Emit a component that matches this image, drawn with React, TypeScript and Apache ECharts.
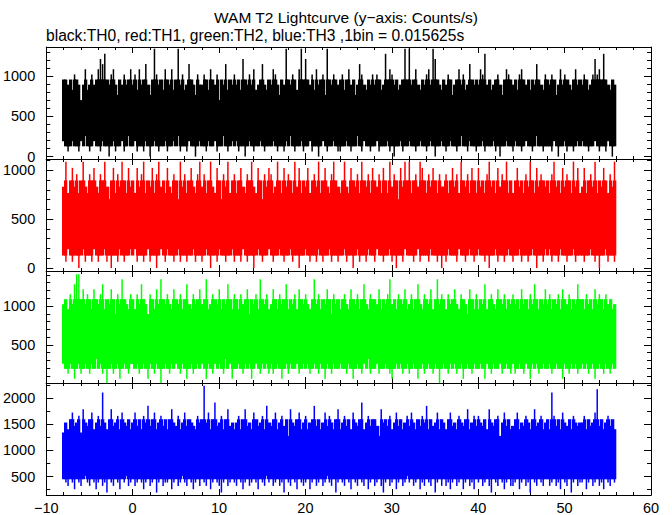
import React, { useEffect, useRef } from 'react';
import * as echarts from 'echarts';

// one bin of the original data = 0.015625 s; values below are counts per bin (max / min per 0.25 s block)
const BIN_SEC = 0.015625;
const T_START = -8.1;
const T_STEP = 0.25;

// TH0 (black)
const th0Hi = [
  15,15,14,15,13,16,15,14,11,14,17,13,14,16,14,15,
  17,19,18,20,15,14,16,17,14,12,15,14,16,14,15,17,
  14,16,13,17,14,15,18,14,12,15,21,16,14,15,13,17,
  15,14,17,13,15,21,14,16,13,14,18,15,14,12,16,14,
  14,16,15,13,17,15,14,16,11,15,14,18,13,15,14,16,
  14,15,13,19,15,14,16,14,17,13,14,15,18,14,13,15,
  14,17,16,14,12,15,14,21,15,14,16,15,13,17,21,15,
  19,15,14,16,13,17,14,15,16,12,21,15,14,16,15,14,
  15,16,13,15,17,14,15,12,14,18,16,14,13,15,14,16,
  14,16,15,13,14,20,15,17,16,14,15,13,14,15,21,15,
  21,14,15,17,14,13,15,14,16,17,14,21,19,15,14,13,
  15,14,16,15,12,14,15,17,14,16,13,14,18,15,14,15,
  14,17,16,20,14,15,13,14,15,16,14,12,15,17,16,15,
  14,15,13,16,17,15,14,15,13,15,14,18,15,14,13,16,
  15,14,16,15,12,14,17,14,16,15,14,13,15,17,14,15,
  14,16,15,13,14,16,19,16,17,15,20,15,14,13,15,14,
];
const th0Lo = [
  3,2,1,2,3,2,2,1,3,2,4,2,1,2,3,2,
  2,1,3,2,2,0,2,3,1,2,2,3,1,2,4,2,
  2,3,1,2,2,1,3,2,0,2,3,2,1,2,2,3,
  1,2,2,3,2,4,1,2,2,1,3,2,2,0,2,3,
  2,2,1,3,2,2,3,1,2,2,4,2,1,2,3,2,
  3,1,2,2,0,2,3,2,1,2,2,3,2,1,2,2,
  2,3,2,1,2,2,1,3,2,4,2,1,2,2,3,1,
  2,2,3,1,2,2,0,2,3,2,1,2,2,3,2,1,
  1,2,2,3,2,1,2,2,4,2,1,3,2,2,1,2,
  2,3,1,2,2,2,3,1,2,0,2,2,3,1,2,2,
  3,2,2,1,2,3,2,2,1,2,3,2,0,2,2,3,
  2,1,2,3,2,2,1,2,4,2,2,1,3,2,2,1,
  2,2,3,1,2,2,2,3,1,2,0,2,2,3,2,2,
  1,3,2,2,1,2,3,2,2,1,2,4,2,2,1,2,
  2,2,1,3,2,0,2,2,3,1,2,2,1,2,3,2,
  3,2,2,1,2,2,3,2,1,2,2,1,3,2,0,2,
];

// TH1 (red)
const th1Hi = [
  13,17,12,14,16,13,15,12,14,17,13,12,15,14,16,13,
  12,15,14,17,13,11,14,16,12,15,13,17,14,12,16,13,
  14,12,16,13,15,17,12,14,13,16,12,15,17,13,14,12,
  16,13,12,15,14,11,17,13,15,12,14,16,13,12,15,17,
  13,15,12,14,17,13,12,16,14,11,15,13,17,12,14,15,
  12,14,16,13,12,15,14,17,13,12,16,14,11,15,13,16,
  15,12,13,17,14,12,16,13,15,14,12,17,13,16,12,14,
  13,16,12,14,15,13,17,12,14,16,13,12,15,17,14,13,
  12,14,17,13,12,16,14,13,15,12,17,14,13,15,12,16,
  14,13,15,12,16,14,12,17,13,15,14,11,16,13,17,14,
  17,12,14,15,13,17,16,14,12,15,13,16,14,12,15,13,
  13,15,12,14,16,13,15,12,17,14,13,15,12,16,14,12,
  16,13,14,12,15,17,13,14,12,16,13,15,14,17,12,14,
  12,14,16,13,14,12,15,13,17,14,12,16,13,15,14,13,
  14,12,15,17,13,14,12,16,13,15,14,12,17,13,16,12,
  13,16,12,14,15,13,17,12,14,13,16,14,12,15,13,17,
];
const th1Lo = [
  2,1,3,2,1,2,2,0,2,3,1,2,2,1,3,2,
  1,2,2,3,1,2,0,2,2,1,3,2,1,2,2,3,
  2,3,1,2,2,1,2,3,1,2,2,0,2,3,2,1,
  3,2,2,1,2,3,1,2,2,1,2,2,3,1,2,2,
  1,2,3,2,0,2,2,1,3,2,2,1,2,2,3,1,
  2,2,1,3,2,1,2,2,0,2,3,2,1,2,2,3,
  2,1,2,2,3,2,1,2,2,3,1,2,2,0,2,2,
  3,2,1,2,2,1,3,2,1,2,2,3,1,2,2,1,
  2,2,3,1,2,2,0,2,3,1,2,2,1,3,2,2,
  1,3,2,2,1,2,2,3,1,2,0,2,2,1,3,2,
  2,2,1,2,3,1,2,2,2,1,3,2,2,1,2,0,
  2,1,3,2,2,2,1,3,2,2,1,2,3,2,1,2,
  3,2,2,1,2,0,2,2,3,1,2,2,1,2,3,2,
  1,2,2,3,1,2,2,1,2,3,2,0,2,2,1,3,
  2,3,1,2,2,1,3,2,2,1,2,2,3,1,2,2,
  2,1,2,2,3,2,1,2,0,2,2,3,1,2,2,1,
];

// TH2 (green)
const th2Hi = [
  16,17,15,18,16,20,22,22,17,19,16,18,17,15,19,17,
  16,18,20,15,17,16,19,17,14,18,16,21,17,16,15,18,
  17,15,18,16,20,17,16,14,18,17,15,19,16,21,17,16,
  18,16,15,19,17,16,18,15,17,20,16,15,18,16,17,19,
  16,17,21,15,16,18,17,16,19,15,17,16,20,17,15,18,
  17,15,18,16,17,19,14,17,16,18,15,21,17,16,18,15,
  16,19,17,15,18,16,17,20,15,17,16,18,15,19,17,16,
  18,16,15,17,21,16,18,15,17,16,19,17,14,18,16,17,
  15,17,18,16,15,19,17,16,18,15,17,20,16,15,18,17,
  17,16,19,15,17,16,18,21,16,17,15,18,17,16,19,15,
  16,18,15,17,20,16,15,18,17,16,19,15,17,21,16,18,
  17,15,18,16,17,19,16,15,18,17,16,14,19,17,15,18,
  15,17,16,20,15,17,18,16,15,19,17,16,18,15,17,16,
  18,16,17,15,19,16,17,15,18,16,20,17,15,17,16,19,
  16,18,15,17,16,18,15,19,17,16,18,15,17,16,20,17,
  17,15,18,16,17,15,19,16,18,17,15,18,16,17,15,16,
];
const th2Lo = [
  4,3,2,4,3,1,3,4,2,3,4,3,2,4,3,5,
  3,4,2,3,0,3,4,2,3,4,1,3,4,3,2,4,
  4,3,4,2,3,4,3,1,4,3,2,4,3,0,3,4,
  3,2,4,3,4,3,2,4,3,1,3,4,2,3,4,3,
  4,3,1,4,3,2,4,3,4,3,2,5,3,4,1,3,
  3,4,3,2,4,3,4,1,3,4,3,2,4,3,4,2,
  4,2,3,4,3,1,3,4,2,4,3,3,4,2,3,4,
  3,4,2,3,4,3,2,4,3,1,4,3,2,4,3,3,
  4,3,3,2,4,3,1,3,4,3,2,4,3,5,2,3,
  3,4,2,3,3,4,3,2,1,3,4,3,4,2,3,4,
  2,3,4,3,1,3,4,2,3,4,3,2,4,3,0,3,
  4,3,2,4,3,4,2,3,4,1,3,4,3,2,4,3,
  3,4,3,1,4,3,2,4,3,3,4,2,3,4,3,2,
  4,2,3,4,3,2,4,3,1,4,3,4,2,3,4,3,
  3,4,2,3,4,3,3,1,4,3,2,4,3,4,2,3,
  4,3,4,2,3,4,1,3,4,3,2,4,3,2,4,3,
];

// TH3 (blue)
const th3Hi = [
  21,24,22,25,27,23,24,26,21,28,24,23,25,27,22,24,
  26,23,33,24,22,25,28,23,24,26,22,27,24,23,25,22,
  24,27,23,25,22,26,24,29,23,25,27,22,24,26,23,25,
  22,25,28,24,23,26,22,24,27,23,25,24,23,22,26,24,
  25,35,24,27,22,25,30,23,24,26,22,25,28,23,24,22,
  24,26,22,25,28,23,24,22,27,25,23,24,26,22,29,24,
  23,25,27,22,24,26,23,25,20,28,24,23,25,27,22,24,
  26,22,24,25,29,23,25,22,24,27,23,26,24,22,25,28,
  22,24,26,23,25,22,27,24,23,25,30,22,24,26,23,25,
  25,23,20,28,24,25,23,26,22,24,27,23,25,22,24,26,
  23,27,24,22,25,23,26,24,29,22,25,23,24,27,22,25,
  24,22,25,27,23,24,22,26,24,23,25,28,22,24,26,23,
  26,24,23,25,22,28,24,23,25,26,20,24,27,23,25,22,
  23,25,27,22,24,23,26,24,22,25,28,23,24,26,22,24,
  25,22,33,26,23,25,22,27,24,23,25,22,26,24,23,24,
  24,26,22,25,23,24,27,34,23,25,22,24,26,23,25,22,
];
const th3Lo = [
  7,6,5,7,6,4,7,6,5,7,8,6,5,7,6,4,
  6,7,5,6,3,7,6,5,7,6,4,7,6,8,5,6,
  7,5,6,7,6,4,6,7,5,6,7,3,6,7,5,6,
  6,7,4,6,7,5,6,8,6,5,7,6,4,6,7,5,
  7,6,5,7,4,6,7,6,5,3,6,7,5,6,7,6,
  5,7,6,4,6,7,5,6,7,6,4,7,6,5,8,6,
  7,5,6,7,5,6,3,7,6,5,7,6,4,7,6,5,
  6,7,4,6,7,5,6,7,5,6,8,6,5,7,3,6,
  7,6,5,7,6,4,7,6,5,7,6,5,7,4,6,7,
  5,6,7,5,3,6,7,5,6,7,4,6,7,5,6,8,
  6,7,5,6,7,4,6,5,7,6,5,7,3,6,7,5,
  7,5,6,4,6,7,5,6,7,4,6,7,5,6,4,7,
  6,7,5,6,7,5,3,7,6,5,7,6,4,6,7,5,
  5,6,7,4,6,7,5,6,3,7,6,5,7,6,5,7,
  7,5,6,7,5,6,4,7,6,5,7,3,6,7,5,6,
  6,7,4,6,7,5,6,7,5,6,4,7,6,5,7,6,
];

const seriesHi = [th0Hi, th1Hi, th2Hi, th3Hi];
const seriesLo = [th0Lo, th1Lo, th2Lo, th3Lo];
const seriesColors = ['#000000', '#ff0000', '#00ff00', '#0000ff'];
// dense-band limits (counts per bin): parts of a block beyond them are drawn as thin spikes
const bandTop = [15, 14, 17, 25];
const bandBottom = [2, 2, 3, 7];

// axes
const xMin = -10;
const xMax = 60;
const xInterval = 10;
const yMins = [-30, -30, 10, 145];
const yMaxs = [1365, 1115, 1450, 2295];
const yMajorTicks = [
  [0, 500, 1000],
  [0, 500, 1000],
  [500, 1000],
  [500, 1000, 1500, 2000],
];
const yMinorTicks = [
  [100, 200, 300, 400, 600, 700, 800, 900, 1100, 1200, 1300],
  [100, 200, 300, 400, 600, 700, 800, 900, 1100],
  [100, 200, 300, 400, 600, 700, 800, 900, 1100, 1200, 1300, 1400],
  [250, 750, 1250, 1750, 2250],
];

const TITLE = 'WAM T2 Lightcurve (y\u2212axis: Counts/s)';
const SUBTITLE = 'black:TH0, red:TH1, green:TH2, blue:TH3 ,1bin = 0.015625s';

const FONT = '"Liberation Sans", Arial, Helvetica, sans-serif';
const GRID_LEFT = 45;
const GRID_WIDTH = 606;
const GRID_TOPS = [47, 159, 271, 383];
const GRID_HEIGHT = 112;

function makeRender(g: number) {
  const color = seriesColors[g];
  const capTop = bandTop[g] / BIN_SEC;
  const capBot = bandBottom[g] / BIN_SEC;
  return (params: any, api: any) => {
    const t = api.value(0);
    const lo = api.value(1);
    const hi = api.value(2);
    const cs = params.coordSys;
    const clampY = (y: number) => Math.min(Math.max(y, cs.y), cs.y + cs.height);
    const xl = api.coord([t, hi])[0];
    const xr = api.coord([t + T_STEP, lo])[0];
    const x0 = Math.floor(xl);
    const x1 = Math.ceil(xr);
    const xc = (xl + xr) / 2;
    const yHi = clampY(api.coord([t, hi])[1]);
    const yLo = clampY(api.coord([t, lo])[1]);
    const yBandHi = clampY(api.coord([t, Math.min(hi, capTop)])[1]);
    const yBandLo = clampY(api.coord([t, Math.max(lo, capBot)])[1]);
    const children: any[] = [
      { type: 'rect', shape: { x: x0, y: yBandHi, width: x1 - x0 + 0.3, height: Math.max(0, yBandLo - yBandHi) }, style: { fill: color } },
    ];
    if (hi > capTop) {
      children.push({ type: 'rect', shape: { x: xc - 0.75, y: yHi, width: 1.5, height: yBandHi - yHi + 0.5 }, style: { fill: color } });
    }
    if (lo < capBot) {
      children.push({ type: 'rect', shape: { x: xc - 0.75, y: yBandLo - 0.5, width: 1.5, height: yLo - yBandLo + 0.5 }, style: { fill: color } });
    }
    return { type: 'group', children };
  };
}

export default function App() {
  const ref = useRef<HTMLDivElement>(null);
  useEffect(() => {
    if (!ref.current) return;
    const chart = echarts.init(ref.current, undefined, { renderer: 'svg' });
    const grids: any[] = [];
    const xAxes: any[] = [];
    const yAxes: any[] = [];
    const series: any[] = [];
    const black = { color: '#000', width: 1 };
    for (let g = 0; g < 4; g++) {
      grids.push({ left: GRID_LEFT, width: GRID_WIDTH, top: GRID_TOPS[g], height: GRID_HEIGHT, show: false });
      for (const pos of ['bottom', 'top']) {
        xAxes.push({
          gridIndex: g,
          type: 'value',
          position: pos,
          min: xMin,
          max: xMax,
          interval: xInterval,
          axisLine: { show: true, onZero: false, lineStyle: black },
          axisTick: { show: true, inside: true, length: 6, lineStyle: black },
          minorTick: { show: true, splitNumber: 5, length: 3, lineStyle: black },
          splitLine: { show: false },
          axisLabel: {
            show: g === 3 && pos === 'bottom',
            color: '#000',
            fontSize: 14.5,
            fontFamily: FONT,
            margin: 5,
            formatter: (v: number) => String(v).replace('-', '\u2212'),
          },
        });
      }
      for (const pos of ['left', 'right']) {
        yAxes.push({
          gridIndex: g,
          type: 'value',
          position: pos,
          min: yMins[g],
          max: yMaxs[g],
          axisLine: { show: true, onZero: false, lineStyle: black },
          axisTick: { show: true, inside: true, length: 7, lineStyle: black, customValues: yMajorTicks[g] },
          splitLine: { show: false },
          axisLabel: {
            show: pos === 'left',
            customValues: yMajorTicks[g],
            color: '#000',
            fontSize: 14.5,
            lineHeight: 12,
            fontFamily: FONT,
            margin: 11,
            formatter: (v: number) => String(v),
          },
        });
        yAxes.push({
          gridIndex: g,
          type: 'value',
          position: pos,
          min: yMins[g],
          max: yMaxs[g],
          axisLine: { show: false, onZero: false },
          axisTick: { show: true, inside: true, length: 4, lineStyle: black, customValues: yMinorTicks[g] },
          splitLine: { show: false },
          axisLabel: { show: false },
        });
      }
      const hi = seriesHi[g];
      const lo = seriesLo[g];
      const data = lo.map((l, i) => [T_START + i * T_STEP, l / BIN_SEC, hi[i] / BIN_SEC]);
      series.push({
        type: 'custom',
        coordinateSystem: 'cartesian2d',
        xAxisIndex: g * 2,
        yAxisIndex: g * 4,
        data,
        encode: { x: 0, y: [1, 2] },
        renderItem: makeRender(g),
        silent: true,
      });
    }
    chart.setOption({
      animation: false,
      backgroundColor: '#ffffff',
      grid: grids,
      xAxis: xAxes,
      yAxis: yAxes,
      series,
      graphic: [
        {
          type: 'text',
          x: 346,
          y: 17,
          style: { text: TITLE, fontSize: 15.5, fontFamily: FONT, fill: '#000', align: 'center', verticalAlign: 'middle' },
        },
        {
          type: 'text',
          x: 46,
          y: 35,
          style: { text: SUBTITLE, fontSize: 15.6, fontFamily: FONT, fill: '#000', align: 'left', verticalAlign: 'middle' },
        },
      ],
    });
    return () => chart.dispose();
  }, []);
  return <div ref={ref} style={{ position: 'fixed', left: 0, top: 0, width: 672, height: 515 }} />;
}
